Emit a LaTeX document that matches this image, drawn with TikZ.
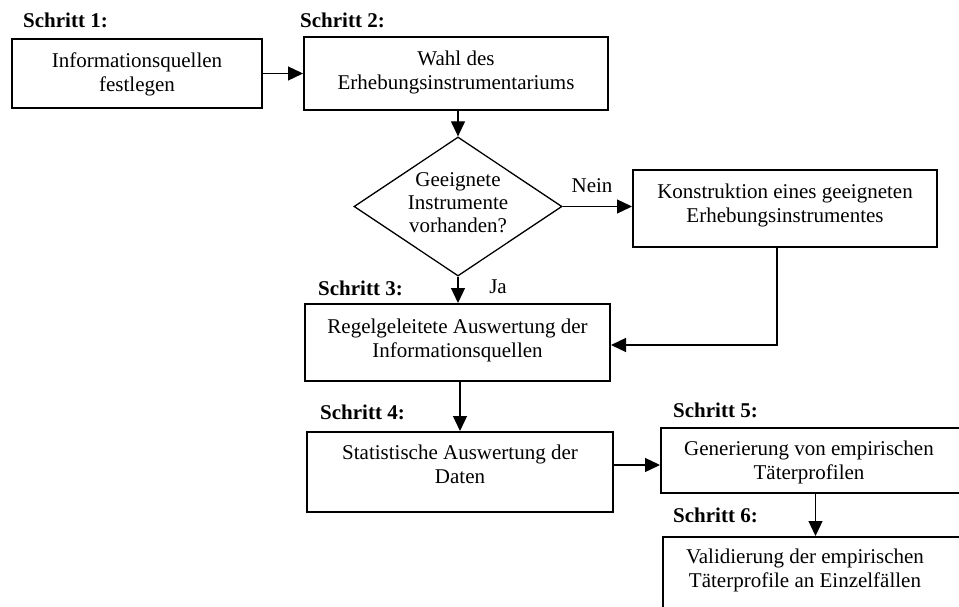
\documentclass[tikz,border=0pt]{standalone}
\usepackage{fontspec}
\setmainfont{Liberation Serif}
\usetikzlibrary{arrows.meta,shapes.geometric,calc}
\begin{document}
\begin{tikzpicture}[x=1pt,y=-1pt,
  box/.style={draw,line width=2pt,inner sep=0pt},
  dia/.style={draw,diamond,line width=1.3pt,inner sep=0pt},
  txt/.style={anchor=north,inner sep=0pt,align=center,font=\fontsize{21}{24.5}\selectfont},
  steplabel/.style={anchor=base west,inner sep=0pt,font=\fontsize{21}{24.5}\selectfont\bfseries},
  lab/.style={anchor=base,inner sep=0pt,font=\fontsize{21}{24.5}\selectfont},
  arr/.style={line width=1.3pt,-{Triangle[length=15pt,width=14pt]}},
  ln/.style={line width=1.3pt}]
\useasboundingbox (0,0) rectangle (959,607);
\clip (0,0) rectangle (959,607);
\fill[white] (0,0) rectangle (959,607);

% boxes
\node[box,minimum width=250pt,minimum height=69pt] (b1) at (137,73.5) {};
\node[box,minimum width=304pt,minimum height=73pt] (b2) at (456,73.5) {};
\node[dia,minimum width=208pt,minimum height=139pt] (d) at (458,206.5) {};
\node[box,minimum width=304pt,minimum height=77pt] (k) at (785,208.5) {};
\node[box,minimum width=305pt,minimum height=77pt] (b3) at (457.5,342.5) {};
\node[box,minimum width=306pt,minimum height=80pt] (b4) at (460,472) {};
\node[box,minimum width=309pt,minimum height=65pt] (b5) at (815.5,460.5) {};
\node[box,minimum width=312pt,minimum height=93pt] (b6) at (819,583.5) {};

% texts
\node[txt] (t1) at (137,50) {\strut Informationsquellen\\festlegen};
\node[txt] (t2) at (456,48) {\strut Wahl des\\Erhebungsinstrumentariums};
\node[txt,font=\fontsize{21}{23}\selectfont] (td) at (458,170) {\strut Geeignete\\Instrumente\\vorhanden?};
\node[txt] (tk) at (785,181) {\strut Konstruktion eines geeigneten\\Erhebungsinstrumentes};
\node[txt] (t3) at (457.5,316) {\strut Regelgeleitete Auswertung der\\Informationsquellen};
\node[txt] (t4) at (460,442) {\strut Statistische Auswertung der\\Daten};
\node[txt] (t5) at (809,438) {\strut Generierung von empirischen\\Täterprofilen};
\node[txt] (t6) at (805,546) {\strut Validierung der empirischen\\Täterprofile an Einzelfällen};

% step labels
\node[steplabel] (s1) at (23,28) {Schritt 1:};
\node[steplabel] (s2) at (300,28) {Schritt 2:};
\node[steplabel] (s3) at (318,295) {Schritt 3:};
\node[steplabel] (s4) at (320,419) {Schritt 4:};
\node[steplabel] (s5) at (673,417) {Schritt 5:};
\node[steplabel] (s6) at (673,522) {Schritt 6:};
\node[lab] (nein) at (592,193) {Nein};
\node[lab] (ja) at (498,293) {Ja};

% connectors
\draw[arr] (b1.east) -- (b2.west);
\draw[arr] (b2.south -| d.north) -- (d.north);
\draw[arr] (d.east) -- (d.east -| k.west);
\draw[arr] (d.south) -- (d.south |- b3.north);
\coordinate (kb) at ($(k.south)+(-8,0)$);
\coordinate (b3e) at ($(b3.east)+(0,2.5)$);
\draw[arr] (kb) |- (b3e);
\draw[arr] (b3.south -| b4.north) -- (b4.north);
\coordinate (b4e) at ($(b4.east)+(0,-7)$);
\draw[arr] (b4e) -- (b4e -| b5.west);
\draw[arr] (b5.south) -- (b5.south |- b6.north);
\end{tikzpicture}
\end{document}
